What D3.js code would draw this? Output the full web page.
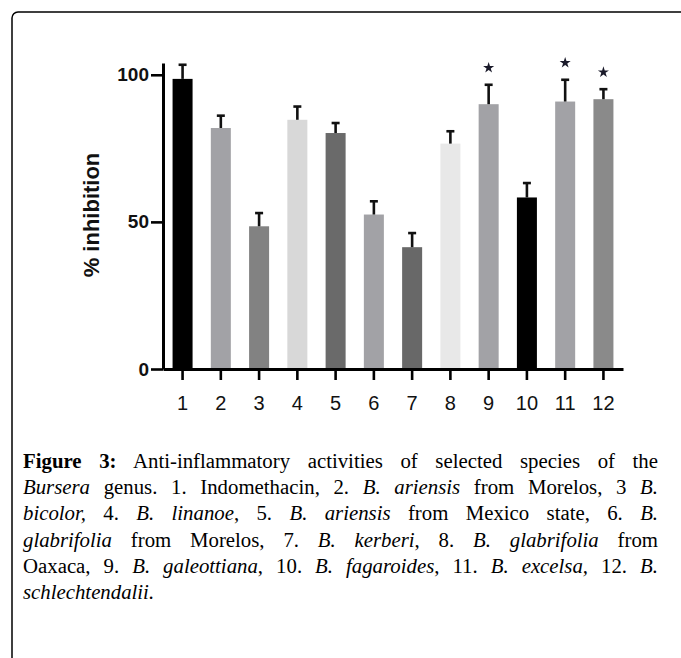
<!DOCTYPE html>
<html>
<head>
<meta charset="utf-8">
<script src="https://cdn.jsdelivr.net/npm/d3@7"></script>
<style>
  body { margin: 0; background: #fff; }
  #wrap { position: relative; width: 681px; height: 658px; overflow: hidden; }
  #caption { position: absolute; left: 23px; top: 448px; width: 635px;
             font-family: "Liberation Serif", serif; font-size: 20.8px; line-height: 26.2px; color: #000; }
  #caption div { text-align: justify; text-align-last: justify; white-space: nowrap; }
  #caption div.last { text-align-last: left; }
</style>
</head>
<body>
<div id="wrap">
  <div id="chart"></div>
  <div id="caption">
    <div><b>Figure 3:</b> Anti-inflammatory activities of selected species of the</div>
    <div><i>Bursera</i> genus. 1. Indomethacin, 2. <i>B. ariensis</i> from Morelos, 3 <i>B.</i></div>
    <div><i>bicolor,</i> 4. <i>B. linanoe</i>, 5. <i>B. ariensis</i> from Mexico state, 6. <i>B.</i></div>
    <div><i>glabrifolia</i> from Morelos, 7. <i>B. kerberi</i>, 8. <i>B. glabrifolia</i> from</div>
    <div>Oaxaca, 9. <i>B. galeottiana</i>, 10. <i>B. fagaroides</i>, 11. <i>B. excelsa,</i> 12. <i>B.</i></div>
    <div class="last"><i>schlechtendalii.</i></div>
  </div>
</div>
<script>
//All the variables
var groups = ["1", "2", "3", "4", "5", "6", "7", "8", "9", "10", "11", "12"];
var inhibition = [98.6, 81.9, 48.5, 84.7, 80.2, 52.5, 41.4, 76.6, 90.0, 58.3, 90.9, 91.7];
var errUp = [4.8, 4.2, 4.5, 4.5, 3.4, 4.5, 4.8, 4.2, 6.6, 4.9, 7.4, 3.4];
var starred = ["9", "11", "12"];
var barColors = ["#000000", "#a2a2a6", "#828282", "#d8d8d8", "#6a6a6a", "#a2a2a6",
                 "#686868", "#e8e8e8", "#a2a2a6", "#000000", "#a2a2a6", "#8a8a8a"];
var yTicks = [0, 50, 100];

var w = 681, h = 658;

var data = groups.map(function(g, i) {
  return { group: g, value: inhibition[i], err: errUp[i], color: barColors[i] };
});

var svg = d3.select("#chart")
  .append("svg")
    .attr("width", w)
    .attr("height", h)
    .style("position", "absolute")
    .style("left", 0)
    .style("top", 0);

// frame round the figure (runs off right and bottom)
svg.append("rect")
  .attr("x", 12)
  .attr("y", 12)
  .attr("width", 700)
  .attr("height", 700)
  .attr("rx", 6)
  .attr("fill", "none")
  .attr("stroke", "#000")
  .attr("stroke-width", 1.5);

// Scales
var x = d3.scaleBand()
  .domain(groups)
  .range([163, 623])
  .paddingInner(0.477)
  .paddingOuter(0.25);

var y = d3.scaleLinear()
  .domain([0, 104])
  .range([369, 63]);

//Bars
svg.selectAll("rect.bar")
  .data(data)
  .enter()
  .append("rect")
    .attr("class", "bar")
    .attr("x", function(d) { return x(d.group); })
    .attr("y", function(d) { return y(d.value); })
    .attr("width", x.bandwidth())
    .attr("height", function(d) { return y(0) - y(d.value); })
    .attr("fill", function(d) { return d.color; });

// error bars (upper only)
var eb = svg.selectAll("g.err")
  .data(data)
  .enter()
  .append("g")
    .attr("class", "err")
    .attr("stroke", "#111")
    .attr("stroke-width", 2.6);

eb.append("line")
  .attr("x1", function(d) { return x(d.group) + x.bandwidth() / 2; })
  .attr("x2", function(d) { return x(d.group) + x.bandwidth() / 2; })
  .attr("y1", function(d) { return y(d.value); })
  .attr("y2", function(d) { return y(d.value + d.err); });

eb.append("line")
  .attr("x1", function(d) { return x(d.group) + x.bandwidth() / 2 - 4; })
  .attr("x2", function(d) { return x(d.group) + x.bandwidth() / 2 + 4; })
  .attr("y1", function(d) { return y(d.value + d.err); })
  .attr("y2", function(d) { return y(d.value + d.err); });

// stars over the significant bars
svg.selectAll("path.star")
  .data(data.filter(function(d) { return starred.indexOf(d.group) >= 0; }))
  .enter()
  .append("path")
    .attr("class", "star")
    .attr("d", d3.symbol().type(d3.symbolStar).size(38))
    .attr("transform", function(d) {
      return "translate(" + (x(d.group) + x.bandwidth() / 2) + "," + (y(d.value + d.err) - 17) + ")";
    })
    .attr("fill", "#1a1a2a");

// Y axis
var yAxis = svg.append("g")
  .attr("transform", "translate(163,0)")
  .call(d3.axisLeft(y).tickValues(yTicks).tickSize(12).tickPadding(2).tickSizeOuter(0));
yAxis.select(".domain").attr("stroke-width", 3);
yAxis.selectAll(".tick line").attr("stroke-width", 2.6);
yAxis.selectAll("text")
  .attr("font-family", "Liberation Sans, Arial, sans-serif")
  .attr("font-size", "19px")
  .attr("font-weight", "bold")
  .attr("fill", "#111");

// X axis
var xAxis = svg.append("g")
  .attr("transform", "translate(0,369)")
  .call(d3.axisBottom(x).tickSize(11).tickPadding(16).tickSizeOuter(0));
xAxis.select(".domain").attr("stroke-width", 3);
xAxis.selectAll(".tick line").attr("stroke-width", 2.6);
xAxis.selectAll("text")
  .attr("font-family", "Liberation Sans, Arial, sans-serif")
  .attr("font-size", "20px")
  .attr("fill", "#111");

// y title
svg.append("text")
  .attr("transform", "translate(99,215) rotate(-90)")
  .attr("text-anchor", "middle")
  .attr("font-family", "Liberation Sans, Arial, sans-serif")
  .attr("font-size", "22px")
  .attr("font-weight", "bold")
  .attr("fill", "#111")
  .text("% inhibition");
</script>
</body>
</html>
